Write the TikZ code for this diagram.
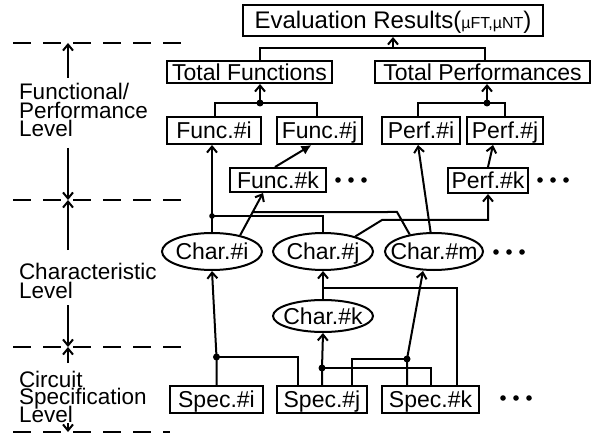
\documentclass[tikz,border=0pt]{standalone}
\usepackage{fontspec}
\setmainfont{Liberation Sans}
\usetikzlibrary{shapes.geometric,arrows.meta,calc}
\begin{document}
\begin{tikzpicture}[x=1pt,y=-1pt,
  line width=2pt,
  every node/.style={font=\fontsize{23}{23}\selectfont, inner sep=0pt},
  tx/.style={text height=16.5pt, text depth=0pt},
  box/.style={draw, rectangle, tx},
  charel/.style={draw, ellipse, minimum width=100pt, minimum height=37pt},
  chartx/.style={tx},
  arr/.style={-{Straight Barb[length=6pt,width=10pt]}},
  farr/.style={-{Latex[length=10pt,width=10pt]}},
  lvl/.style={anchor=base west, font=\fontsize{22.5}{18.5}\selectfont},
  guide/.style={line width=1.8pt, dash pattern=on 18pt off 12pt},
]
\useasboundingbox (0,0) rectangle (601,435);

% ---------- boxes ----------
\node[box, minimum width=300pt, minimum height=31pt, font=\fontsize{24}{24}\selectfont]
  (eval) at (393,20.5) {Evaluation Results({\fontsize{16}{16}\selectfont µFT,µNT})};
\node[box, minimum width=165pt, minimum height=22pt] (totf) at (249.5,72) {Total Functions};
\node[box, minimum width=215pt, minimum height=22pt] (totp) at (482.5,72) {Total Performances};

\node[box, minimum width=94pt, minimum height=27pt] (funci) at (214,130.5) {Func.\#i};
\node[box, minimum width=85pt, minimum height=27pt] (funcj) at (319.5,130.5) {Func.\#j};
\node[box, minimum width=78pt, minimum height=27pt] (perfi) at (421,130.5) {Perf.\#i};
\node[box, minimum width=76pt, minimum height=27pt] (perfj) at (505,130.5) {Perf.\#j};

\node[box, minimum width=96pt, minimum height=24pt] (funck) at (278,180) {Func.\#k};
\node[box, minimum width=80pt, minimum height=25pt] (perfk) at (488,180.5) {Perf.\#k};

\node[box, minimum width=93pt, minimum height=27pt] (speci) at (216.5,399.5) {Spec.\#i};
\node[box, minimum width=90pt, minimum height=27pt] (specj) at (322,399.5) {Spec.\#j};
\node[box, minimum width=97pt, minimum height=27pt] (speck) at (430.5,399.5) {Spec.\#k};

% ---------- characteristic ellipses ----------
\node[charel] (chari) at (212,251.5) {};
\node[chartx] (chari-t) at (chari) {Char.\#i};
\node[charel] (charj) at (323,251.5) {};
\node[chartx] (charj-t) at (charj) {Char.\#j};
\node[charel, minimum width=98pt] (charm) at (434,251.5) {};
\node[chartx] (charm-t) at (charm) {Char.\#m};
\node[charel, minimum height=32pt] (chark) at (323,316) {};
\node[chartx] (chark-t) at (chark) {Char.\#k};

% ---------- continuation dots ----------
\foreach \x in {338,351,364} \fill (\x,180) circle (2.8pt);
\foreach \x in {540,553,566} \fill (\x,180) circle (2.8pt);
\foreach \x in {496,509,522} \fill (\x,252) circle (2.8pt);
\foreach \x in {503,516,529} \fill (\x,398) circle (2.8pt);

% ---------- totals into evaluation ----------
\coordinate (jE) at (393,48);
\coordinate (jEl) at (260,48);
\coordinate (jEr) at (485,48);
\draw (totf.north -| jEl) -- (jEl) -- (jEr) -- (totp.north -| jEr);
\draw[arr] (jE) -- (eval.south -| jE);

% ---------- functions into total functions ----------
\coordinate (jF) at (260,103);
\coordinate (jFl) at (215,103);
\coordinate (jFr) at (317,103);
\draw (funci.north -| jFl) -- (jFl) -- (jFr) -- (funcj.north -| jFr);
\draw[arr] (jF) -- (totf.south -| jF);
\fill (jF) circle (3.5pt);

% ---------- performances into total performances ----------
\coordinate (jP) at (487,103);
\coordinate (jPl) at (418,103);
\coordinate (jPr) at (505,103);
\draw (perfi.north -| jPl) -- (jPl) -- (jPr) -- (perfj.north -| jPr);
\draw[arr] (jP) -- (totp.south -| jP);
\fill (jP) circle (3.5pt);

% ---------- second-order items ----------
\coordinate (fjTip) at ($(funcj.south)+(-8,0)$);
\draw[farr] ($(funck.north)+(-3,0)$) -- (fjTip);
\draw[arr] (perfk.north) -- ($(perfj.south)+(-12,0)$);

% ---------- characteristics into functions / performances ----------
\path (chari.north) ++(0,-16) coordinate (jC);
\draw[arr] (chari.north) -- (chari.north |- funci.south);
\draw (jC) -| (charj.north);
\fill (jC) circle (2.8pt);

\coordinate (ciA) at (chari.30);
\coordinate (fkTip) at ($(funck.south)+(-15,0)$);
\draw[arr] (ciA) -- (fkTip);
\coordinate (h1) at (0,212);
\coordinate (h2) at (10,212);
\coordinate (kA) at (intersection of ciA--fkTip and h1--h2);
\coordinate (kB) at (397,212);
\draw (charm.145) -- (kB) -- (kA);

\coordinate (pB) at (382,220);
\draw[arr] (charj.25) -- (pB) -| (perfk.south);

\draw[arr] (charm.100) -- ($(perfi.south)+(-3,0)$);

% ---------- specifications into characteristics ----------
\path (speci.north) ++(0,-28) coordinate (dI);
\draw[arr] (speci.north) -- (dI) -- (chari.south);
\draw (dI) -| ($(specj.north)+(-24,0)$);
\fill (dI) circle (3.5pt);

\path (specj.north) ++(0,-17) coordinate (dJ);
\draw[arr] (specj.north) -- (dJ) -- (chark.south);
\draw (dJ) -| (speck.north);
\fill (dJ) circle (3.5pt);

\path (speck.north) ++(-23.5,-26) coordinate (dK);
\draw[arr] (speck.north -| dK) -- (dK) -- ($(charm.south)+(-11,0)$);
\draw (dK) -| ($(specj.north)+(30,0)$);
\fill (dK) circle (3.5pt);

\path (chark.north) ++(0,-11) coordinate (cJ);
\draw[arr] (chark.north) -- (charj.south);
\draw (cJ) -| ($(speck.north)+(26.5,0)$);

% ---------- level scale on the left ----------
\coordinate (b1) at (68,43);
\coordinate (b2) at (68,200);
\coordinate (b3) at (68,347);
\coordinate (b4) at (68,432);
\draw[guide] (13,43) -- (182,43);
\draw[guide] (13,200) -- (182,200);
\draw[guide] (13,347) -- (182,347);
\draw[guide] (13,432) -- (170,432);
\draw[arr] ($(b1)+(0,35)$) -- (b1);
\draw[arr] ($(b2)+(0,-52)$) -- (b2);
\draw[arr] ($(b2)+(0,50)$) -- (b2);
\draw[arr] ($(b3)+(0,-42)$) -- (b3);
\draw[arr] ($(b3)+(0,16)$) -- (b3);
\draw[arr] ($(b4)+(0,-9)$) -- (b4);

\node[lvl] (lvl1) at (18,100)
  {\vtop{\baselineskip=18.5pt\lineskiplimit=-100pt
    \hbox{Functional/}\hbox{Performance}\hbox{Level}}};
\node[lvl] (lvl2) at (18,279)
  {\vtop{\baselineskip=19pt\lineskiplimit=-100pt
    \hbox{Characteristic}\hbox{Level}}};
\node[lvl] (lvl3) at (18,387)
  {\vtop{\baselineskip=17.5pt\lineskiplimit=-100pt
    \hbox{Circuit}\hbox{Specification}\hbox{Level}}};
\end{tikzpicture}
\end{document}
